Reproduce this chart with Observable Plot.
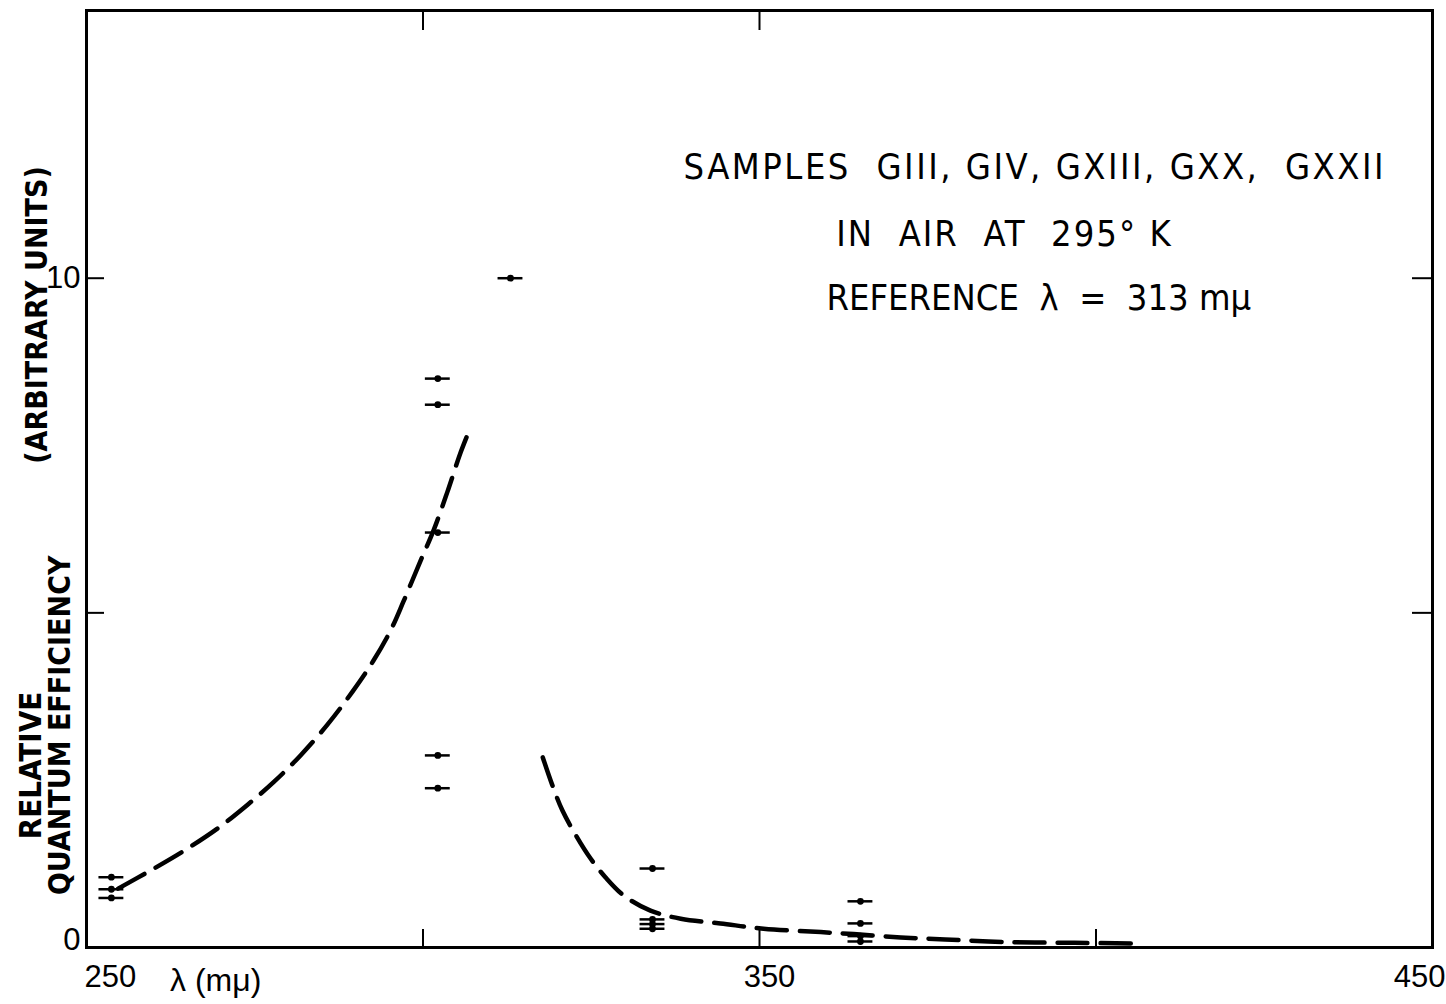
<!DOCTYPE html>
<html><head><meta charset="utf-8">
<script src="https://cdn.jsdelivr.net/npm/d3@7"></script>
<script src="https://cdn.jsdelivr.net/npm/@observablehq/plot@0.6"></script>
<style>body{margin:0;background:#fff}</style>
</head><body><div id="chart"></div>
<script>
// Measured points (wavelength in mμ, relative quantum efficiency)
const markerLambda = [253.7, 253.7, 253.7, 302.2, 302.2, 302.2, 302.2, 302.2, 313.0, 334.1, 334.1, 334.1, 334.1, 365.0, 365.0, 365.0, 365.0];
const markerEfficiency = [1.05, 0.87, 0.74, 8.50, 8.11, 6.20, 2.87, 2.38, 10.0, 1.18, 0.42, 0.35, 0.28, 0.69, 0.36, 0.17, 0.09];
const bandwidth = 3.7;

// Dashed curves
const curveALambda = [254.7, 259.5, 264.4, 269.5, 273.9, 277.8, 281.8, 285.8, 289.5, 292.6, 295.2, 297.1, 299.6, 301.6, 303.6, 305.6, 307.1];
const curveAEff = [0.88, 1.15, 1.44, 1.78, 2.13, 2.47, 2.87, 3.33, 3.82, 4.28, 4.74, 5.17, 5.77, 6.24, 6.80, 7.40, 7.78];
const curveBLambda = [317.8, 319.2, 320.7, 322.7, 324.9, 327.1, 329.8, 333.8, 338.3, 344.2, 350.6, 359.1, 364.0, 371.0, 377.6, 387.1, 396.8, 405.6];
const curveBEff = [2.84, 2.43, 2.05, 1.68, 1.33, 1.05, 0.78, 0.55, 0.43, 0.36, 0.28, 0.23, 0.20, 0.15, 0.12, 0.08, 0.07, 0.06];

// Ticks and labels
const bottomTicks = [300, 350, 400];
const topTicks = [300, 350];
const sideTicks = [5, 10];
const xTickLabels = ["250", "350", "450"];
const xTickValues = [250, 350, 450];
const yTickLabels = ["0", "10"];
const yTickValues = [0, 10];
const annotationLines = ["SAMPLES  GIII, GIV, GXIII, GXX,  GXXII", "IN  AIR  AT  295° K", "REFERENCE  λ  =  313 mμ"];
const annotationX = [390.9, 386.4, 391.5];
const annotationY = [11.66, 10.66, 9.69];
const annotationSpacing = [2.5, 2, 0];
const yLabelLines = ["(ARBITRARY UNITS)", "RELATIVE", "QUANTUM EFFICIENCY"];
const yLabelCenters = [9.45, 2.72, 3.32];
const xLabel = "λ (mμ)";

const markers = markerLambda.map((x, i) => ({x, y: markerEfficiency[i]}));
const curveA = curveALambda.map((x, i) => ({x, y: curveAEff[i]}));
const curveB = curveBLambda.map((x, i) => ({x, y: curveBEff[i]}));
const annotations = annotationLines.map((t, i) => ({t, x: annotationX[i], y: annotationY[i]}));

const W = 1446, H = 1004, mL = 86, mR = 14, mT = 10, mB = 57;
const innerW = W - mL - mR, innerH = H - mT - mB;
const narrow = "'Liberation Sans Narrow', 'DejaVu Sans Condensed', 'Liberation Sans', sans-serif";

const chart = Plot.plot({
  width: W, height: H,
  marginLeft: mL, marginRight: mR, marginTop: mT, marginBottom: mB,
  x: {domain: [250, 450], axis: null},
  y: {domain: [0, 14], axis: null},
  style: {fontFamily: "'Liberation Sans', Arial, sans-serif", background: "#fff", color: "#000"},
  marks: [
    Plot.frame({stroke: "#000", strokeWidth: 3}),
    Plot.tickX(bottomTicks, {x: d => d, insetTop: innerH - 18, strokeWidth: 2}),
    Plot.tickX(topTicks, {x: d => d, insetBottom: innerH - 20, strokeWidth: 2}),
    Plot.tickY(sideTicks, {y: d => d, insetRight: innerW - 18, strokeWidth: 2}),
    Plot.tickY(sideTicks, {y: d => d, insetLeft: innerW - 20, strokeWidth: 2}),
    Plot.line(curveA, {x: "x", y: "y", curve: "catmull-rom", stroke: "#000", strokeWidth: 4.5, strokeDasharray: "30,13"}),
    Plot.line(curveB, {x: "x", y: "y", curve: "catmull-rom", stroke: "#000", strokeWidth: 4.5, strokeDasharray: "30,13"}),
    Plot.ruleY(markers, {x1: d => d.x - bandwidth / 2, x2: d => d.x + bandwidth / 2, y: "y", stroke: "#000", strokeWidth: 2.5}),
    Plot.dot(markers, {x: "x", y: "y", r: 3.4, fill: "#000", stroke: null}),
    // x tick labels
    Plot.text([xTickLabels[0]], {x: xTickValues[0], frameAnchor: "bottom", text: d => d, textAnchor: "start", dy: 30, dx: -2, fontSize: 31, lineAnchor: "middle"}),
    Plot.text([xTickLabels[1]], {x: xTickValues[1], frameAnchor: "bottom", text: d => d, textAnchor: "middle", dy: 30, dx: 10, fontSize: 31, lineAnchor: "middle"}),
    Plot.text([xTickLabels[2]], {x: xTickValues[2], frameAnchor: "bottom", text: d => d, textAnchor: "end", dy: 30, dx: 13, fontSize: 31, lineAnchor: "middle"}),
    Plot.text([xLabel], {x: 269.2, frameAnchor: "bottom", text: d => d, textAnchor: "middle", dy: 33, fontSize: 32, lineAnchor: "middle"}),
    // y tick labels
    Plot.text([yTickLabels[0]], {y: yTickValues[0], frameAnchor: "left", text: d => d, textAnchor: "end", dx: -6, dy: -7, fontSize: 31, lineAnchor: "middle"}),
    Plot.text([yTickLabels[1]], {y: yTickValues[1], frameAnchor: "left", text: d => d, textAnchor: "end", dx: -6, fontSize: 31, lineAnchor: "middle"}),
    // y axis label
    Plot.text([yLabelLines[0]], {y: yLabelCenters[0], frameAnchor: "left", text: d => d, rotate: -90, dx: -49, fontSize: 30, fontWeight: "bold", fontFamily: narrow, textAnchor: "middle", lineAnchor: "middle"}),
    Plot.text([yLabelLines[1]], {y: yLabelCenters[1], frameAnchor: "left", text: d => d, rotate: -90, dx: -55, fontSize: 31, fontWeight: "bold", fontFamily: narrow, textAnchor: "middle", lineAnchor: "middle"}),
    Plot.text([yLabelLines[2]], {y: yLabelCenters[2], frameAnchor: "left", text: d => d, rotate: -90, dx: -26, fontSize: 30, fontWeight: "bold", fontFamily: narrow, textAnchor: "middle", lineAnchor: "middle"}),
    // annotations
    Plot.text(annotations, {x: "x", y: "y", text: "t", fontSize: 36, fontFamily: narrow, textAnchor: "middle", lineAnchor: "middle"})
  ]
});
d3.select(chart).selectAll("text").each(function() {
  const i = annotationLines.indexOf(this.textContent);
  if (i >= 0 && annotationSpacing[i]) d3.select(this).style("letter-spacing", annotationSpacing[i] + "px");
});
document.getElementById("chart").appendChild(chart);
</script>
</body></html>
